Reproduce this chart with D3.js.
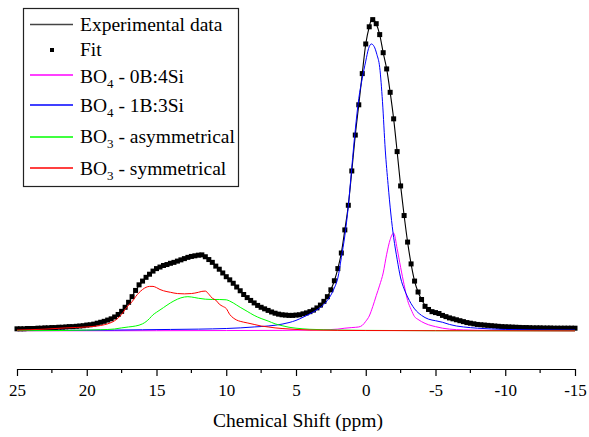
<!DOCTYPE html>
<html>
<head>
<meta charset="utf-8">
<script src="https://cdn.jsdelivr.net/npm/d3@7"></script>
<style>
  html, body { margin: 0; padding: 0; background: #fff; }
  svg { display: block; font-family: "Liberation Serif", "Times New Roman", serif; }
</style>
</head>
<body>
<svg id="chart" width="589" height="437"></svg>
<script>
// 11B MAS NMR spectrum: experimental trace, fitted envelope and the four fitted components.
// Chemical shift in ppm, intensity in arbitrary units (maximum ~100).

const xTicks = [25, 20, 15, 10, 5, 0, -5, -10, -15];
const xMinorTicks = [22.5, 17.5, 12.5, 7.5, 2.5, -2.5, -7.5, -12.5];

// Fit envelope, sampled every 0.25 ppm from 25 down to -15 ppm
const fitStart = 25, fitStep = 0.25;
const fitValues = [
  0.7, 0.7, 0.7, 0.8, 0.8, 0.8, 0.9, 0.9, 1.0, 1.0,
  1.1, 1.1, 1.2, 1.2, 1.3, 1.4, 1.4, 1.5, 1.6, 1.7,
  1.9, 2.0, 2.2, 2.5, 2.8, 3.1, 3.5, 3.9, 4.5, 5.3,
  6.3, 7.6, 9.2, 11.0, 13.0, 14.8, 16.0, 17.2, 18.2, 19.2,
  20.0, 20.5, 21.0, 21.3, 21.7, 22.0, 22.4, 22.8, 23.2, 23.6,
  23.9, 24.1, 24.3, 24.4, 23.8, 22.9, 22.0, 20.8, 19.8, 18.6,
  17.4, 16.4, 15.3, 14.1, 12.9, 11.7, 10.7, 9.8, 9.0, 8.2,
  7.6, 7.1, 6.6, 6.1, 5.7, 5.4, 5.2, 5.1, 5.0, 5.0,
  5.1, 5.2, 5.5, 5.8, 6.2, 6.7, 7.4, 8.3, 9.5, 11.0,
  13.2, 16.1, 20.0, 25.0, 32.4, 40.3, 51.3, 62.8, 72.5, 82.5,
  92.0, 97.5, 99.8, 98.5, 95.0, 89.2, 84.0, 76.5, 68.0, 57.5,
  46.5, 37.0, 28.5, 21.5, 16.0, 12.5, 10.1, 7.9, 6.9, 6.2,
  5.9, 5.6, 5.0, 4.6, 4.2, 3.9, 3.6, 3.3, 3.0, 2.7,
  2.5, 2.3, 2.1, 2.0, 1.9, 1.8, 1.7, 1.6, 1.5, 1.4,
  1.35, 1.3, 1.25, 1.2, 1.15, 1.1, 1.1, 1.05, 1.0, 1.0,
  1.0, 0.95, 0.95, 0.95, 0.9, 0.9, 0.9, 0.9, 0.9, 0.9,
  0.9
];

// Experimental spectrum [ppm, intensity]
const experimental = [
  [25,0.7],[24,0.8],[23,1.0],[22,1.2],[21,1.4],[20,1.9],[19.5,2.2],[19,2.8],[18.5,3.5],[18,4.5],
  [17.5,6.3],[17,9.2],[16.5,13.0],[16,16.0],[15.5,18.2],[15,20.0],[14.5,21.0],[14,21.7],[13.5,22.4],
  [13,23.2],[12.5,23.9],[12,24.3],[11.75,24.4],[11.5,23.8],[11,22.0],[10.5,19.8],[10,17.4],[9.5,15.3],
  [9,12.9],[8.5,10.7],[8,9.0],[7.5,7.6],[7,6.6],[6.5,5.7],[6,5.2],[5.5,5.0],[5,5.1],[4.5,5.5],[4,6.2],
  [3.5,7.4],[3,9.5],[2.75,11.0],[2.5,13.2],[2.25,16.1],[2,20.0],[1.75,25.0],[1.5,32.4],[1.25,40.3],
  [1,51.3],[0.75,62.8],[0.5,72.5],[0.25,82.5],[0,92.0],[-0.25,97.5],[-0.45,100.2],[-0.75,98.5],
  [-1,95.0],[-1.25,89.2],[-1.5,84.0],[-1.75,76.5],[-2,68.0],[-2.25,57.5],[-2.5,46.5],[-2.75,37.0],
  [-3,28.5],[-3.25,21.5],[-3.5,16.0],[-3.75,12.5],[-4,10.1],[-4.5,6.9],[-5,5.9],[-5.5,5.0],[-6,4.2],
  [-7,3.0],[-8,2.1],[-9,1.7],[-10,1.35],[-11,1.15],[-12,1.0],[-13,0.95],[-14,0.9],[-15,0.9]
];

// BO4 - 0B:4Si component
const bo4_0B4Si = [
  [25,0.05],[15,0.1],[10,0.15],[6,0.2],[4,0.3],[3,0.4],[2,0.6],[1.5,0.9],[1,1.1],[0.5,1.3],
  [0.25,1.8],[0,3.1],[-0.25,4.8],[-0.5,7.8],[-0.75,11.3],[-1,14.7],[-1.25,18.6],[-1.5,24.6],
  [-1.75,29.3],[-2,31.4],[-2.25,26.4],[-2.5,20.4],[-2.75,14.8],[-3,9.8],[-3.25,6.9],[-3.5,4.6],
  [-3.75,3.7],[-4,3.0],[-4.5,2.0],[-5,1.4],[-5.5,0.9],[-6,0.6],[-7,0.35],[-8,0.25],[-10,0.15],[-15,0.05]
];

// BO4 - 1B:3Si component
const bo4_1B3Si = [
  [25,0.15],[22,0.2],[20,0.25],[18,0.3],[16,0.4],[14,0.5],[12,0.6],[10,0.8],[9,1.0],[8,1.3],
  [7,1.6],[6,2.2],[5.5,2.7],[5,3.4],[4.5,4.4],[4,5.5],[3.5,6.8],[3,8.5],[2.5,11.5],[2.25,13.8],
  [2,17.0],[1.75,23.5],[1.5,30.5],[1.25,40.0],[1,52.5],[0.75,64.5],[0.5,74.5],[0.25,81.0],
  [0,86.5],[-0.2,90.5],[-0.4,92.0],[-0.6,91.2],[-0.8,88.6],[-1,84.5],[-1.2,73.5],[-1.4,58.0],
  [-1.6,47.0],[-1.8,37.5],[-2,30.0],[-2.25,23.0],[-2.5,17.0],[-2.75,13.5],[-3,10.9],[-3.5,7.1],
  [-4,5.0],[-4.5,3.8],[-5,3.3],[-5.5,2.8],[-6,2.1],[-6.5,1.6],[-7,1.3],[-8,0.9],[-9,0.65],
  [-10,0.5],[-12,0.35],[-15,0.3]
];

// BO3 - asymmetrical component
const bo3Asym = [
  [25,0.1],[22,0.15],[20,0.3],[19,0.4],[18,0.65],[17.5,1.0],[17,1.3],[16.5,1.6],[16,2.3],
  [15.75,3.0],[15.5,4.0],[15.25,5.2],[15,6.0],[14.5,7.5],[14,9.0],[13.5,10.2],[13,10.9],
  [12.75,11.0],[12.5,10.9],[12,10.5],[11.5,10.2],[11,10.1],[10.5,10.1],[10,10.0],[9.75,9.6],
  [9.5,9.0],[9.25,8.3],[9,7.6],[8.5,6.3],[8,5.0],[7.5,4.0],[7,3.2],[6.5,2.3],[6,1.7],[5.5,1.2],
  [5,0.9],[4.5,0.7],[4,0.55],[3,0.4],[2,0.3],[0,0.2],[-5,0.1],[-15,0.05]
];

// BO3 - symmetrical component
const bo3Sym = [
  [25,0.3],[23,0.6],[21.5,1.0],[20,1.3],[19.25,1.6],[18.75,2.0],[18.25,2.7],[18,3.3],[17.75,4.2],
  [17.5,5.3],[17.25,6.9],[17,8.3],[16.75,9.4],[16.5,11.0],[16.25,12.3],[16,13.3],[15.75,14.0],
  [15.5,14.3],[15.25,14.3],[15,13.9],[14.75,13.3],[14.5,12.9],[14,12.4],[13.5,12.0],[13,11.9],
  [12.5,12.0],[12,12.4],[11.75,12.7],[11.5,12.8],[11.25,11.8],[11,10.5],[10.75,9.9],[10.5,8.6],
  [10.25,7.9],[10,7.2],[9.75,5.3],[9.5,4.2],[9.25,3.5],[9,3.1],[8.5,2.6],[8,2.1],[7.5,1.6],
  [7,1.3],[6.5,1.0],[6,0.8],[5,0.5],[4,0.3],[2,0.2],[0,0.15],[-5,0.1],[-15,0.05]
];

const components = [
  { sub: "4", rest: " - 0B:4Si", color: "#ff00ff", data: bo4_0B4Si },
  { sub: "4", rest: " - 1B:3Si", color: "#0000ff", data: bo4_1B3Si },
  { sub: "3", rest: " - asymmetrical", color: "#00ff00", data: bo3Asym },
  { sub: "3", rest: " - symmetrical", color: "#ff0000", data: bo3Sym }
];

const svg = d3.select("#chart");

const x = d3.scaleLinear().domain([25, -15]).range([17, 575]);
const y = d3.scaleLinear().domain([0, 100]).range([331, 19]);
const axisY = 369;

const line = d3.line()
  .x(d => x(d[0]))
  .y(d => y(d[1]))
  .curve(d3.curveMonotoneX);

const fitPpm = d3.range(fitValues.length).map(i => fitStart - i * fitStep);
const fitPoints = fitPpm.map((p, i) => [p, fitValues[i]]);

const plot = svg.append("g");

// experimental trace
plot.append("path")
  .datum(experimental)
  .attr("d", line)
  .attr("fill", "none")
  .attr("stroke", "#000")
  .attr("stroke-width", 1.1);

// fit as square markers
const sq = 5;
plot.append("g")
  .selectAll("rect")
  .data(fitPoints)
  .join("rect")
  .attr("x", d => x(d[0]) - sq / 2)
  .attr("y", d => y(d[1]) - sq / 2)
  .attr("width", sq)
  .attr("height", sq)
  .attr("fill", "#000");

// fitted components
plot.append("g")
  .selectAll("path")
  .data(components)
  .join("path")
  .attr("d", d => line(d.data))
  .attr("fill", "none")
  .attr("stroke", d => d.color)
  .attr("stroke-width", 1);

// x axis
const axis = svg.append("g")
  .attr("transform", `translate(0,${axisY})`)
  .call(d3.axisBottom(x)
    .tickValues(xTicks)
    .tickFormat(d => String(d))
    .tickSize(7)
    .tickSizeOuter(0)
    .tickPadding(8));
axis.select(".domain").attr("stroke", "#000").attr("stroke-width", 1.2);
axis.selectAll(".tick line").attr("stroke", "#000").attr("stroke-width", 1.2);
axis.selectAll(".tick text")
  .attr("fill", "#000")
  .style("font-family", "'Liberation Serif', serif")
  .style("font-size", "17px");

svg.append("g")
  .attr("transform", `translate(0,${axisY})`)
  .selectAll("line")
  .data(xMinorTicks)
  .join("line")
  .attr("x1", d => x(d)).attr("x2", d => x(d))
  .attr("y1", 0).attr("y2", 4)
  .attr("stroke", "#000")
  .attr("stroke-width", 1.2);

svg.append("text")
  .attr("x", x(5) + 2)
  .attr("y", 427)
  .attr("text-anchor", "middle")
  .style("font-size", "19.5px")
  .attr("fill", "#000")
  .text("Chemical Shift (ppm)");

// legend
const fs = "19.5px";
const legend = svg.append("g");
legend.append("rect")
  .attr("x", 23.5).attr("y", 8.5)
  .attr("width", 215).attr("height", 178)
  .attr("fill", "#fff")
  .attr("stroke", "#222")
  .attr("stroke-width", 1.2);

const lx1 = 30, lx2 = 73, tx = 80;

legend.append("line")
  .attr("x1", lx1).attr("x2", lx2).attr("y1", 24.5).attr("y2", 24.5)
  .attr("stroke", "#444").attr("stroke-width", 1.3);
legend.append("text").attr("x", tx).attr("y", 31)
  .style("font-size", fs).text("Experimental data");

legend.append("rect")
  .attr("x", 50).attr("y", 48).attr("width", 4).attr("height", 4).attr("fill", "#000");
legend.append("text").attr("x", tx).attr("y", 56)
  .style("font-size", fs).text("Fit");

const rowLine = [75, 105, 137, 168];
const rowText = [83, 112, 143, 175];
components.forEach((c, i) => {
  legend.append("line")
    .attr("x1", lx1).attr("x2", lx2).attr("y1", rowLine[i]).attr("y2", rowLine[i])
    .attr("stroke", c.color).attr("stroke-width", 1.3);
  const t = legend.append("text").attr("x", tx).attr("y", rowText[i]).style("font-size", fs);
  t.append("tspan").text("BO");
  t.append("tspan").attr("dy", 5).style("font-size", "13px").text(c.sub);
  t.append("tspan").attr("dy", -5).text(c.rest);
});
</script>
</body>
</html>
